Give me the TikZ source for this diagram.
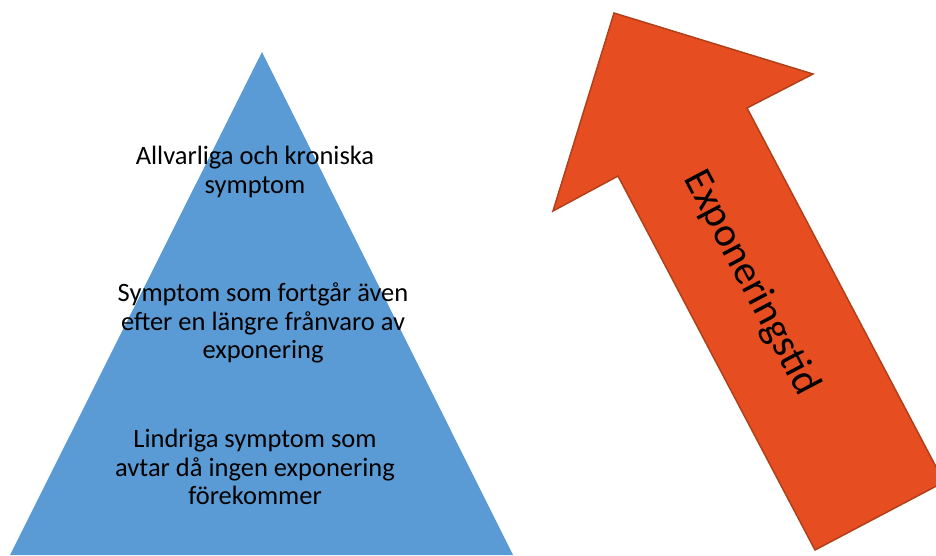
\documentclass[tikz,border=0pt]{standalone}
\usepackage{fontspec}
\setmainfont{Carlito}
\usepackage{tikz}

\definecolor{pyrblue}{HTML}{5B9BD5}
\definecolor{arrfill}{HTML}{E64E22}
\definecolor{arredge}{HTML}{B0401A}

\begin{document}
\begin{tikzpicture}[x=1pt,y=-1pt]
\tikzstyle{every node}+=[inner sep=0pt]
\tikzstyle{level}=[align=center,font=\fontsize{26.5}{28.5}\selectfont]
\useasboundingbox (0,0) rectangle (936,555);
% pyramid
\fill [pyrblue] (10,555) -- (262,52) -- (513,555) -- cycle;
\node [level] (top) at (255,172) {Allvarliga och kroniska\\symptom};
\node [level] (mid) at (263,323) {Symptom som fortgår även\\efter en längre frånvaro av\\exponering};
\node [level] (low) at (255,467) {Lindriga symptom som\\avtar då ingen exponering\\förekommer};
% arrow
\draw [arredge, fill=arrfill, line width=1.5pt, line join=miter]
  (614,13) -- (813,74) -- (747,108) -- (944,482) -- (815,550)
  -- (618,176) -- (553,211) -- cycle;
\node [rotate=-62.2, font=\fontsize{41}{48}\selectfont] (time) at (751,283) {Exponeringstid};
\end{tikzpicture}
\end{document}
